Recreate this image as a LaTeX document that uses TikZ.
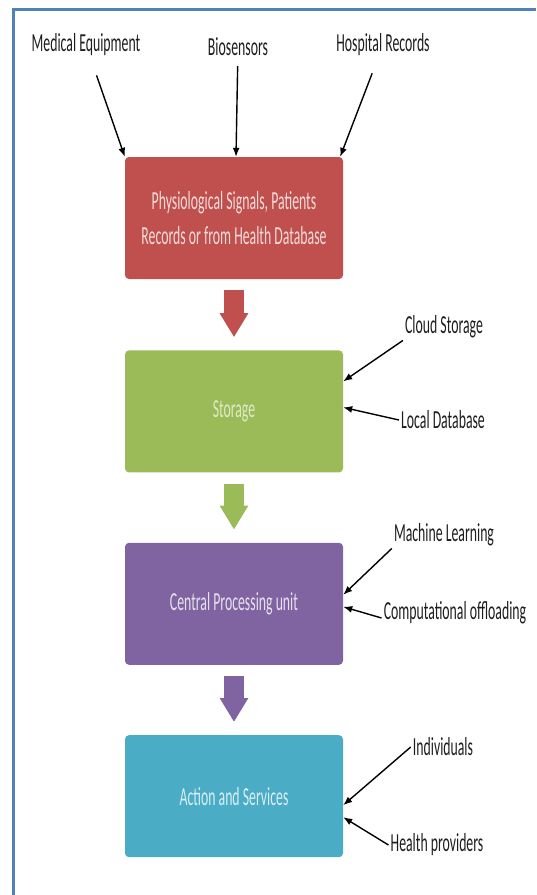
\documentclass[tikz,border=0pt]{standalone}
\usepackage{fontspec}
\setmainfont{Carlito}
\usetikzlibrary{arrows.meta,positioning}

\definecolor{frameblue}{RGB}{79,129,189}
\definecolor{srcred}{RGB}{192,80,77}
\definecolor{srctxt}{RGB}{242,220,219}
\definecolor{storegreen}{RGB}{155,187,89}
\definecolor{storetxt}{RGB}{222,234,196}
\definecolor{cpupurple}{RGB}{128,100,162}
\definecolor{cputxt}{RGB}{229,224,236}
\definecolor{actcyan}{RGB}{75,172,198}
\definecolor{acttxt}{RGB}{218,238,243}
\definecolor{lbltxt}{RGB}{30,30,30}

% narrow text, as in the figure
\newcommand{\nar}[1]{\scalebox{0.53}[1]{#1}}

\tikzset{
  stage/.style={rounded corners=4pt, minimum width=218pt, minimum height=122pt,
    inner sep=0pt, align=center, font=\fontsize{26}{35}\selectfont},
  srclbl/.style={inner sep=2pt, text=lbltxt, font=\fontsize{26}{30}\selectfont},
  feed/.style={line width=1.4pt, -{Latex[length=9pt,width=7pt]}},
  bigflow/.style={draw=#1, line width=20pt, line cap=butt,
    -{Triangle[length=24pt,width=27pt]}, shorten <=11pt, shorten >=13pt}
}

\begin{document}
\begin{tikzpicture}[x=1pt,y=-1pt]
  \useasboundingbox (0,0) rectangle (536,895);
  % frame
  \draw[frameblue, line width=3pt] (13.5,895) -- (13.5,9) -- (536,9);

  % the four stages
  \node[stage, fill=srcred, text=srctxt] (phys) at (234,218)
    {\nar{Physiological Signals, Patients}\\\nar{Records or from Health Database}};
  \node[stage, fill=storegreen, text=storetxt, below=71pt of phys] (store) {\nar{Storage}};
  \node[stage, fill=cpupurple, text=cputxt, below=70pt of store] (cpu) {\nar{Central Processing unit}};
  \node[stage, fill=actcyan, text=acttxt, below=70pt of cpu] (act) {\nar{Action and Services}};

  % flow between stages
  \draw[bigflow=srcred] (phys) -- (store);
  \draw[bigflow=storegreen] (store) -- (cpu);
  \draw[bigflow=cpupurple] (cpu) -- (act);

  % data sources
  \node[srclbl] (medeq) at (86,45) {\nar{Medical Equipment}};
  \node[srclbl] (biosens) at (238,47) {\nar{Biosensors}};
  \node[srclbl] (hosprec) at (383,45) {\nar{Hospital Records}};
  \draw[feed, shorten <=18pt] (medeq) -- (phys.north west);
  \draw[feed, shorten <=8pt] (biosens) -- ([xshift=2pt]phys.north);
  \draw[feed, shorten <=16pt] (hosprec) -- ([xshift=-3pt]phys.north east);

  % storage
  \node[srclbl] (cloud) at (444,327) {\nar{Cloud Storage}};
  \node[srclbl] (localdb) at (443,420) {\nar{Local Database}};
  \draw[feed] (cloud.south west) -- ([yshift=30pt]store.east);
  \draw[feed] (localdb.west) -- ([yshift=4pt]store.east);

  % processing
  \node[srclbl] (ml) at (444,535) {\nar{Machine Learning}};
  \node[srclbl] (comp) at (455,613) {\nar{Computational offloading}};
  \draw[feed] (ml.south west) -- ([yshift=9pt]cpu.east);
  \draw[feed] ([yshift=-5pt]comp.west) -- ([yshift=-3pt]cpu.east);

  % services
  \node[srclbl] (indiv) at (443,747) {\nar{Individuals}};
  \node[srclbl] (health) at (437,845) {\nar{Health providers}};
  \draw[feed] (indiv.west) -- ([yshift=-9pt]act.east);
  \draw[feed] (health.west) -- ([yshift=-21pt]act.east);
\end{tikzpicture}
\end{document}
